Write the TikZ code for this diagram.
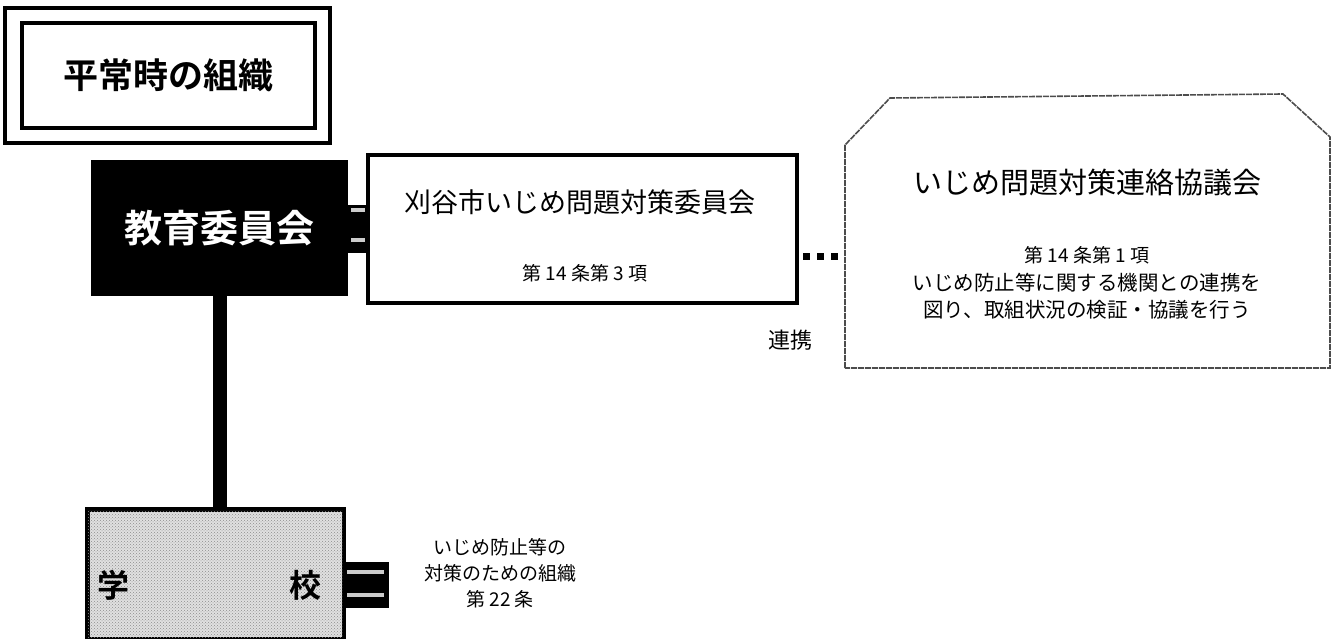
\documentclass[tikz,border=0pt]{standalone}
\usepackage{fontspec}
\setmainfont{Noto Sans CJK JP}[BoldFont={Noto Sans CJK JP Bold}]
\usetikzlibrary{patterns,calc}
\begin{document}
\begin{tikzpicture}[x=1pt,y=-1pt,
  fs/.style={font=\fontsize{#1}{#1}\selectfont},
  bfs/.style={font=\fontsize{#1}{#1}\selectfont\bfseries},
  thickbox/.style={draw=black,line width=3.5pt,inner sep=0pt},
  scanline/.style={draw=black!70,line width=1.6pt,dash pattern=on 6pt off 1pt},
  barfill/.style={fill=black},
  whitemark/.style={fill=black!20},
  sqdot/.style={fill=black,minimum size=7pt,inner sep=0pt}
]
\useasboundingbox (0,0) rectangle (1339,639);
% title
\draw[line width=4pt] (5,8) rectangle (330,143);
\node (title) [thickbox, minimum width=293pt, minimum height=105pt, bfs=35] at (168.5,75.5) {平常時の組織};
% board of education
\node (boe) [fill=black, minimum width=257pt, minimum height=136pt, inner sep=0pt, text=white, bfs=38] at (219.5,228) {教育委員会};
% committee
\node (com) [thickbox, fill=white, minimum width=429pt, minimum height=148pt] at (582.5,229) {};
\node (comt) [fs=27] at (580,202) {刈谷市いじめ問題対策委員会};
\node (coms) [fs=19] at (585,273) {第 14 条第 3 項};
% bar between boe and committee
\path[barfill] (boe.east |- 0,205) rectangle (com.west |- 0,253);
\path[whitemark] (351,208.5) rectangle (365,212.5);
\path[whitemark] (351,238) rectangle (365,242);
% council
\node (cou) [minimum width=485pt, minimum height=272pt, inner sep=0pt] at (1087.5,232) {};
\draw[scanline] (845,368) -- (845,145) -- (890,98) -- (1283,94) -- (1330,137) -- (1330,368) -- cycle;
\node (cout) [fs=29] at (1087,183) {いじめ問題対策連絡協議会};
\node (coul1) [fs=19] at (1087,255) {第 14 条第 1 項};
\node (coul2) [fs=20.5] at (1087,283) {いじめ防止等に関する機関との連携を};
\node (coul3) [fs=20.5] at (1087,310) {図り、取組状況の検証・協議を行う};
% dotted connector
\node (d1) [sqdot] at ($(com.east)+(8,28)$) {};
\node (d2) [sqdot] at ($(com.east)+(22,28)$) {};
\node (d3) [sqdot] at ($(com.east)+(36,28)$) {};
\node (renkei) [fs=22] at (790,340) {連携};
% school
\node (sch) [draw=black, line width=3pt, fill=black!12, minimum width=255pt, minimum height=128pt, inner sep=0pt] at (215.5,574) {};
\fill[pattern=crosshatch dots, pattern color=black!45] (sch.south west) rectangle (sch.north east);
\draw[line width=3pt] (sch.south west) rectangle (sch.north east);
\node (gaku) [bfs=32] at (113,585) {学};
\node (kou) [bfs=32] at (305,585) {校};
\draw[line width=14pt] (boe.south) -- (boe.south |- sch.north);
\path[barfill] (sch.east |- 0,562) rectangle (389,608);
\path[whitemark] (347,570) rectangle (384,574);
\path[whitemark] (347,593) rectangle (384,597);
% school label
\node (schl) [fs=19, align=center, inner sep=0pt] at (500,573) {いじめ防止等の\\[7pt]対策のための組織\\[7pt]第 22 条};
\end{tikzpicture}
\end{document}
